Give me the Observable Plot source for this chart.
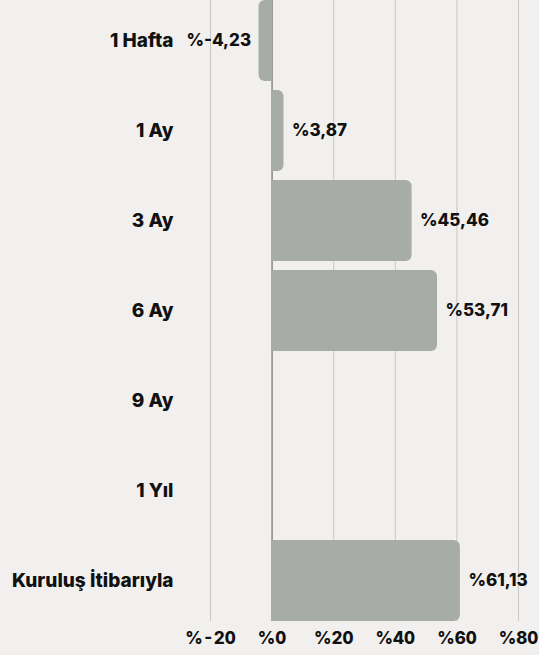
<!DOCTYPE html>
<html><head><meta charset="utf-8">
<script src="https://cdn.jsdelivr.net/npm/d3@7"></script>
<script src="https://cdn.jsdelivr.net/npm/@observablehq/plot@0.6"></script>
<style>
html,body{margin:0;padding:0;background:#f1f0ee;}
#chart svg{display:block;}
</style>
</head><body><div id="chart"></div>
<script>
const categories = ["1 Hafta","1 Ay","3 Ay","6 Ay","9 Ay","1 Yıl","Kuruluş İtibarıyla"];
const values = [-4.23, 3.87, 45.46, 53.71, 0, 0, 61.13];
const xTicks = [-20, 0, 20, 40, 60, 80];

const data = categories.map((c, i) => ({cat: c, v: values[i]}));
const fmt = v => "%" + String(v.toFixed(2)).replace(".", ",");
const labeled = data.filter(d => d.v !== 0);

const chart = Plot.plot({
  width: 539,
  height: 655,
  marginLeft: 210,
  marginRight: 21,
  marginTop: 0,
  marginBottom: 34,
  style: {background: "#f1f0ee", fontFamily: "Inter, sans-serif", fontSize: "17px", fontWeight: "800", color: "#111"},
  x: {domain: [-20, 80], range: [210, 518], ticks: xTicks},
  y: {domain: categories, range: [-9, 630], paddingInner: 0.1, paddingOuter: 0.1},
  marks: [
    Plot.ruleX(xTicks, {stroke: "#c9c8c6", strokeWidth: 1}),
    Plot.ruleX([0], {stroke: "#8f918e", strokeWidth: 1.5}),
    Plot.barX(data.filter(d => d.v > 0), {x1: 0, x2: "v", y: "cat", fill: "#a8aca6", rx2: 6}),
    Plot.barX(data.filter(d => d.v < 0), {x1: "v", x2: 0, y: "cat", fill: "#a8aca6", rx1: 6}),
    Plot.axisX(xTicks, {tickSize: 0, tickPadding: 10, tickFormat: d => "%" + d, label: null, fontSize: 17, fontWeight: 800}),
    Plot.axisY({tickSize: 0, tickPadding: 37, label: null, fontSize: 19, fontWeight: 800}),
    Plot.text(labeled.filter(d => d.v > 0), {x: "v", y: "cat", text: d => fmt(d.v), textAnchor: "start", dx: 8, fontSize: 17, fontWeight: 800, fill: "#111"}),
    Plot.text(labeled.filter(d => d.v < 0), {x: "v", y: "cat", text: d => fmt(d.v), textAnchor: "end", dx: -8, fontSize: 17, fontWeight: 800, fill: "#111"})
  ]
});
document.getElementById("chart").appendChild(chart);
</script>
</body></html>
